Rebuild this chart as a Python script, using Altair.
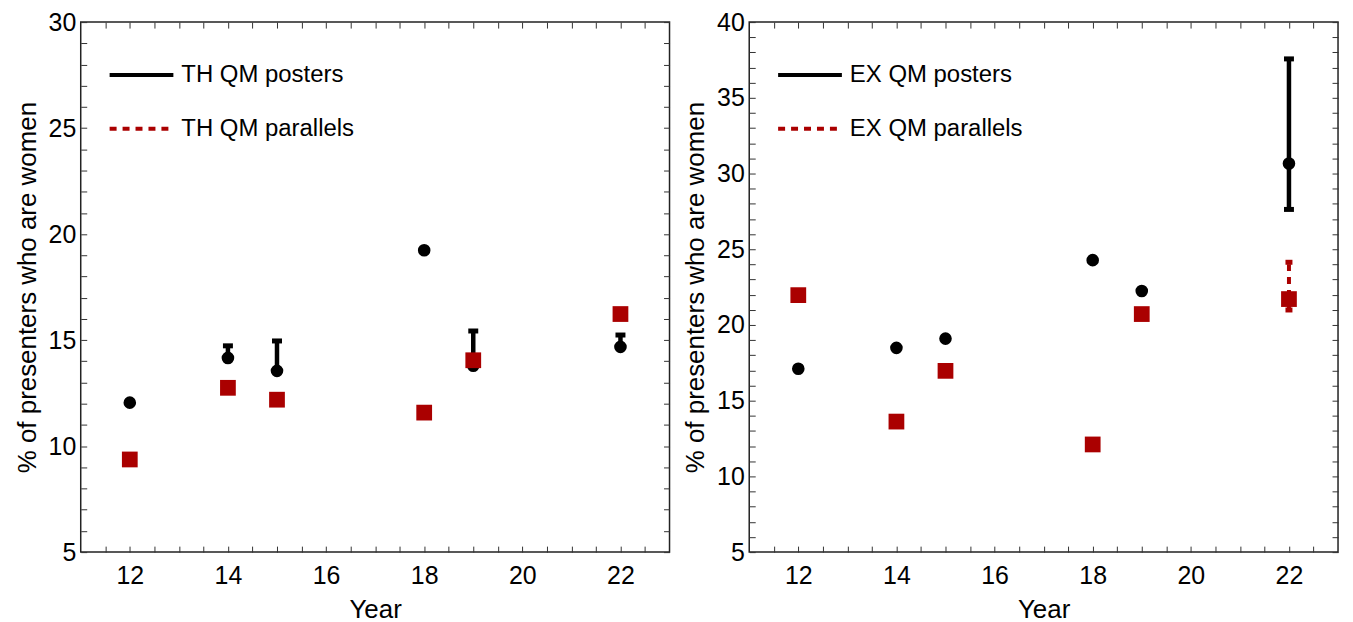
import altair as alt
import pandas as pd

# ---------------- data ----------------
years = [12, 14, 15, 18, 19, 22]

# Left panel (TH)
th_posters = [12.05, 14.16, 13.55, 19.24, 13.79, 14.68]
th_posters_lo = [12.05, 14.16, 13.55, 19.24, 13.79, 14.68]
th_posters_hi = [12.05, 14.73, 14.96, 19.24, 15.43, 15.24]
th_parallels = [9.37, 12.75, 12.19, 11.58, 14.05, 16.23]
th_parallels_lo = [9.37, 12.75, 12.19, 11.58, 14.05, 16.23]
th_parallels_hi = [9.37, 12.75, 12.19, 11.58, 14.05, 16.23]

# Right panel (EX)
ex_posters = [17.11, 18.49, 19.10, 24.28, 22.24, 30.66]
ex_posters_lo = [17.11, 18.49, 19.10, 24.28, 22.24, 27.63]
ex_posters_hi = [17.11, 18.49, 19.10, 24.28, 22.24, 37.57]
ex_parallels = [21.97, 13.62, 16.97, 12.11, 20.72, 21.71]
ex_parallels_lo = [21.97, 13.62, 16.97, 12.11, 20.72, 20.99]
ex_parallels_hi = [21.97, 13.62, 16.97, 12.11, 20.72, 24.14]

x_ticks = [11.5 + 0.5 * i for i in range(23)]
y_ticks_th = list(range(5, 31))
y_ticks_ex = list(range(5, 41))

BLACK = "#000000"
RED = "#aa0000"
FONT = "Liberation Sans"


def legend_def():
    return alt.Legend(
        title=None, orient="none", legendX=27, legendY=19,
        symbolType="stroke", symbolSize=4096, symbolStrokeWidth=4,
        labelFontSize=24, labelFont=FONT, labelColor="black", labelLimit=500,
        rowPadding=8, padding=0, labelOffset=6,
    )


def make_panel(prefix, val_p, lo_p, hi_p, val_q, lo_q, hi_q, ymax, yticks):
    name_p = f"{prefix} QM posters"
    name_q = f"{prefix} QM parallels"
    pts = pd.DataFrame({"year": years, "posters": val_p, "parallels": val_q})
    rows, caps = [], []
    for name, vals, los, his in [(name_p, val_p, lo_p, hi_p), (name_q, val_q, lo_q, hi_q)]:
        for yr, v, lo, hi in zip(years, vals, los, his):
            if hi > lo:
                rows.append({"year": yr, "lo": lo, "hi": hi, "series": name})
            if hi > v:
                caps.append({"year": yr, "cap": hi, "series": name})
            if lo < v:
                caps.append({"year": yr, "cap": lo, "series": name})
    err = pd.DataFrame(rows, columns=["year", "lo", "hi", "series"])
    cap = pd.DataFrame(caps, columns=["year", "cap", "series"])

    xs = alt.Scale(domain=[11, 23], nice=False, zero=False)
    ys = alt.Scale(domain=[5, ymax], nice=False, zero=False)
    color = alt.Color(
        "series:N",
        scale=alt.Scale(domain=[name_p, name_q], range=[BLACK, RED]),
        legend=legend_def(),
    )
    dash = alt.StrokeDash(
        "series:N",
        scale=alt.Scale(domain=[name_p, name_q], range=[[1, 0], [7, 6]]),
        legend=legend_def(),
    )

    x_main = alt.X("year:Q", scale=xs, axis=alt.Axis(
        orient="bottom", values=x_ticks, title="Year", offset=-6, tickSize=6,
        domain=False, grid=False, labelPadding=12,
        labelExpr="(datum.value % 2 === 0) ? format(datum.value, 'd') : ''",
        labelOverlap=False, labelFlush=False, labelBound=False))
    y_main = alt.Y("lo:Q", scale=ys, axis=alt.Axis(
        orient="left", values=yticks, title="% of presenters who are women",
        offset=-6, tickSize=6, domain=False, grid=False, labelPadding=5,
        labelExpr="(datum.value % 5 === 0) ? format(datum.value, 'd') : ''",
        labelOverlap=False, labelFlush=False, labelBound=False))

    x_mirror = alt.X("year:Q", scale=xs, axis=alt.Axis(
        orient="top", values=x_ticks, title=None, offset=-6, tickSize=6,
        domain=False, grid=False, labels=False))
    y_mirror_p = alt.Y("posters:Q", scale=ys, axis=alt.Axis(
        orient="right", values=yticks, title=None, offset=-6, tickSize=6,
        domain=False, grid=False, labels=False))

    err_p = err[err["series"] == name_p]
    err_q = err[err["series"] == name_q]
    cap_p = cap[cap["series"] == name_p]
    cap_q = cap[cap["series"] == name_q]

    # legend carrier + axes (zero-length, transparent rules)
    legend_df = pd.DataFrame({"year": [12, 12], "lo": [5.0, 5.0], "hi": [5.0, 5.0],
                              "series": [name_p, name_q]})
    base_rule = alt.Chart(legend_df).mark_rule(strokeWidth=4, opacity=0).encode(
        x=x_main, y=y_main, y2="hi:Q", color=color, strokeDash=dash)

    black_rule = alt.Chart(err_p).mark_rule(strokeWidth=4.5, color=BLACK, opacity=1).encode(
        x=alt.X("year:Q", scale=xs, axis=None),
        y=alt.Y("lo:Q", scale=ys, axis=None), y2="hi:Q")
    black_cap = alt.Chart(cap_p).mark_tick(orient="horizontal", size=10, thickness=5,
                                           color=BLACK, opacity=1).encode(
        x=alt.X("year:Q", scale=xs, axis=None),
        y=alt.Y("cap:Q", scale=ys, axis=None))
    black_pts = alt.Chart(pts).mark_circle(size=160, color=BLACK, opacity=1).encode(
        x=x_mirror, y=y_mirror_p)

    red_rule = alt.Chart(err_q).mark_rule(strokeWidth=4, color=RED, strokeDash=[7, 6],
                                          opacity=1).encode(
        x=alt.X("year:Q", scale=xs, axis=None),
        y=alt.Y("lo:Q", scale=ys, axis=None), y2="hi:Q")
    red_cap = alt.Chart(cap_q).mark_tick(orient="horizontal", size=7, thickness=5,
                                         color=RED, opacity=1).encode(
        x=alt.X("year:Q", scale=xs, axis=None),
        y=alt.Y("cap:Q", scale=ys, axis=None))
    red_pts = alt.Chart(pts).mark_square(size=250, color=RED, opacity=1).encode(
        x=alt.X("year:Q", scale=xs, axis=None),
        y=alt.Y("parallels:Q", scale=ys, axis=None))

    layers = [base_rule, black_rule]
    if len(cap_p):
        layers.append(black_cap)
    layers.append(black_pts)
    if len(err_q):
        layers.append(red_rule)
    if len(cap_q):
        layers.append(red_cap)
    layers.append(red_pts)
    return alt.layer(*layers).properties(width=591, height=532)


left = make_panel("TH", th_posters, th_posters_lo, th_posters_hi,
                  th_parallels, th_parallels_lo, th_parallels_hi, 30, y_ticks_th)
right = make_panel("EX", ex_posters, ex_posters_lo, ex_posters_hi,
                   ex_parallels, ex_parallels_lo, ex_parallels_hi, 40, y_ticks_ex)

chart = alt.hconcat(left, right, spacing=10).resolve_scale(
    color="independent", strokeDash="independent"
).resolve_legend(color="independent", strokeDash="independent").properties(
    padding={"left": 5, "top": 0, "right": 5, "bottom": 0}
).configure_view(stroke="#222222", strokeWidth=1.5).configure_axis(
    labelFont=FONT, titleFont=FONT, labelFontSize=25, titleFontSize=26,
    labelColor="black", titleColor="black", tickColor="#333333", tickWidth=1,
    titleFontWeight="normal", titlePadding=8
)

chart.save("out.html", embed_options={"renderer": "svg", "actions": False})
